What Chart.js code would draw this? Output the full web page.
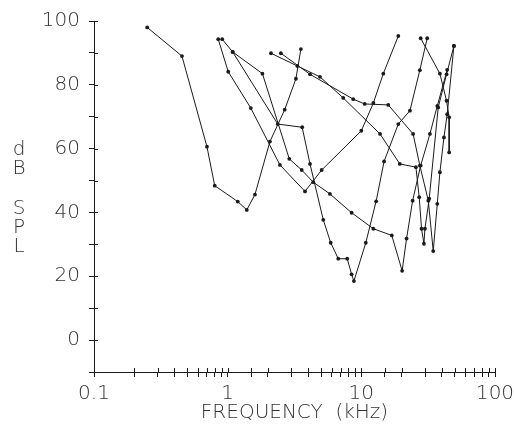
<!DOCTYPE html>
<html>
<head>
<meta charset="utf-8">
<script src="https://cdn.jsdelivr.net/npm/chart.js@4"></script>
<style>
  body { margin: 0; background: #fff; }
  canvas { display: block; }
</style>
</head>
<body>
<canvas id="tuning" width="514" height="434"></canvas>
<script>
// Tuning curves: threshold (dB SPL) against frequency (kHz), log axis

const xTickLabels = [0.1, 1, 10, 100];
const yTickLabels = [0, 20, 40, 60, 80, 100];

const freq1 = [0.25, 0.455, 0.70, 0.80, 1.19, 1.39, 1.60, 2.07, 2.67, 3.24, 3.53];
const db1   = [98, 89, 60.6, 48.4, 43.4, 40.8, 45.6, 62.2, 72.2, 81.9, 91.2];

const freq2 = [0.85, 1.01, 1.49, 2.46, 3.79, 5.05, 10.0, 12.3, 14.6, 18.9];
const db2   = [94.3, 84.1, 72.7, 54.9, 46.6, 53.3, 65.6, 74.3, 83.5, 95.3];

const freq3 = [0.91, 1.09, 2.37, 3.61, 4.13, 5.19, 5.90, 6.72, 7.84, 8.46, 8.80, 10.8, 12.9, 14.8, 18.9, 23.1, 27.4, 31.1];
const db3   = [94.3, 90.3, 67.7, 66.7, 55.2, 37.7, 30.5, 25.5, 25.5, 20.6, 18.5, 30.5, 43.5, 56.0, 67.7, 71.9, 84.6, 94.6];

const freq4 = [1.09, 1.82, 2.89, 3.58, 4.37, 5.82, 8.46, 12.3, 16.9, 20.2, 21.8, 24.2, 27.8, 32.6, 37.0, 43.9];
const db4   = [90.3, 83.5, 56.8, 53.3, 49.5, 45.8, 39.9, 34.9, 32.8, 21.7, 31.8, 43.7, 54.7, 64.6, 73.4, 84.7];

const freq5 = [2.11, 3.32, 4.90, 7.32, 13.8, 19.4, 25.6, 27.1, 28.2, 29.4, 29.9, 32.2, 37.6, 43.4, 49.3];
const db5   = [89.9, 85.9, 82.5, 75.9, 64.6, 55.2, 54.2, 44.8, 34.9, 30.2, 34.9, 44.3, 72.9, 83.3, 92.2];

const freq6 = [2.50, 4.13, 8.70, 10.6, 15.9, 24.4, 27.4, 31.7, 34.5, 37.0, 38.7, 41.5, 43.9, 49.3];
const db6   = [89.9, 83.3, 75.5, 74.0, 73.7, 64.6, 54.7, 43.7, 27.9, 42.7, 52.6, 63.5, 70.8, 92.2];

const freq7 = [27.8, 38.7, 43.4, 45.4, 45.4];
const db7   = [94.6, 83.5, 75.0, 69.8, 58.8];

const curves = [
  [freq1, db1], [freq2, db2], [freq3, db3], [freq4, db4],
  [freq5, db5], [freq6, db6], [freq7, db7]
];

const ink = '#1a1a1a';
const textInk = '#333';
const fontFamily = "'DejaVu Sans', sans-serif";
const labelFont = { family: fontFamily, size: 20, weight: 300 };

// ticks in the original cross the axis line, chart.js only draws the outer half
const crossTicks = {
  id: 'crossTicks',
  afterDraw(chart) {
    const ctx = chart.ctx;
    const xs = chart.scales.x, ys = chart.scales.y;
    ctx.save();
    ctx.strokeStyle = ink;
    ctx.lineWidth = 1;
    ctx.beginPath();
    xs.ticks.forEach(t => {
      const px = Math.round(xs.getPixelForValue(t.value)) + 0.5;
      ctx.moveTo(px, xs.top);
      ctx.lineTo(px, xs.top - 4);
    });
    ys.ticks.forEach(t => {
      const py = Math.round(ys.getPixelForValue(t.value)) + 0.5;
      ctx.moveTo(ys.right, py);
      ctx.lineTo(ys.right + 4, py);
    });
    ctx.stroke();

    // stacked upright letters of the y title
    ctx.fillStyle = textInk;
    ctx.font = '300 20px ' + fontFamily;
    ctx.textAlign = 'center';
    ctx.textBaseline = 'middle';
    const letters = ['d', 'B', 'S', 'P', 'L'];
    const rows = [150, 169, 209, 228, 247];
    letters.forEach((ch, i) => ctx.fillText(ch, 19, rows[i]));
    ctx.restore();
  }
};

new Chart(document.getElementById('tuning'), {
  type: 'scatter',
  data: {
    datasets: curves.map(([f, d]) => ({
      data: f.map((v, i) => ({ x: v, y: d[i] })),
      showLine: true,
      borderColor: ink,
      backgroundColor: ink,
      borderWidth: 1,
      pointRadius: 1.9,
      pointBorderWidth: 0
    }))
  },
  options: {
    responsive: false,
    animation: false,
    layout: { padding: { left: 0, right: 19, top: 20, bottom: 0 } },
    plugins: { legend: { display: false }, tooltip: { enabled: false } },
    scales: {
      x: {
        type: 'logarithmic',
        min: 0.1,
        max: 100,
        afterFit: s => { s.height = 62; s.paddingLeft = 0; s.paddingRight = 0; },
        grid: { drawOnChartArea: false, drawTicks: true, tickLength: 5, color: ink },
        border: { display: true, color: ink },
        ticks: {
          autoSkip: false,
          maxRotation: 0,
          padding: 5,
          color: textInk,
          font: labelFont,
          callback: v => xTickLabels.some(t => Math.abs(t - v) < 1e-9) ? String(v) : ''
        },
        title: {
          display: true,
          text: 'FREQUENCY  (kHz)',
          color: textInk,
          font: labelFont,
          padding: { top: 0, bottom: 9 }
        }
      },
      y: {
        min: -10,
        max: 100,
        afterFit: s => { s.width = 94; },
        grid: { drawOnChartArea: false, drawTicks: true, tickLength: 5, color: ink },
        border: { display: true, color: ink },
        ticks: {
          stepSize: 10,
          padding: 9,
          color: textInk,
          font: labelFont,
          callback: v => yTickLabels.includes(v) ? String(v) : ''
        }
      }
    }
  },
  plugins: [crossTicks]
});
</script>
</body>
</html>
